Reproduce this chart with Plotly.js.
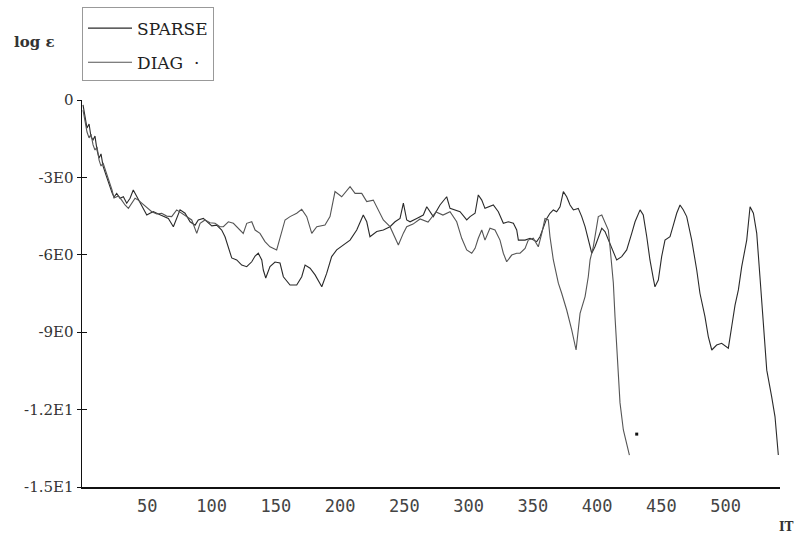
<!DOCTYPE html>
<html>
<head>
<meta charset="utf-8">
<script src="https://cdn.plot.ly/plotly-3.0.1.min.js"></script>
<style>html,body{margin:0;padding:0;background:#fff;}#chart{width:798px;height:546px;}</style>
</head>
<body>
<div id="chart"></div>
<script>
// ---- data ----
const sparseIT = [0,1.6,3.1,4.7,6.2,7.8,9.3,10.9,12.5,14.0,15.6,17.9,20.2,22.6,24.1,26.2,28.8,31.4,34.0,36.6,39.1,41.8,44.4,46.9,49.6,52.1,54.7,58.6,62.5,66.4,70.3,72.9,75.5,79.4,83.3,87.2,89.7,93.6,97.5,100.2,104.0,107.9,110.5,113.1,115.7,119.6,123.5,127.4,131.3,133.9,136.4,139.1,140.3,142.2,145.5,149.4,153.3,155.9,161.1,166.3,170.2,172.8,176.7,180.6,185.8,189.6,193.5,197.4,202.6,207.8,213.0,218.1,220.8,223.3,228.6,233.7,238.9,242.8,246.7,249.3,251.9,254.5,259.7,264.8,267.5,272.6,277.8,283.0,285.6,293.4,298.6,301.2,305.1,307.6,310.3,312.8,319.3,323.2,327.1,331.0,334.9,337.5,338.8,344.0,347.9,350.4,353.1,355.6,358.2,360.9,363.4,366.0,368.6,371.2,373.8,376.4,379.0,381.6,385.4,388.1,390.7,393.2,395.9,398.4,401.0,403.7,406.2,408.8,412.7,415.3,419.2,423.1,427.0,429.6,433.5,436.0,438.7,441.2,443.8,445.1,447.7,450.3,452.9,456.8,459.4,462.0,464.6,467.2,469.8,473.7,477.6,480.1,484.0,486.6,489.3,493.1,497.0,502.2,504.8,507.4,510.0,512.6,516.5,519.1,521.7,524.3,526.8,529.4,532.1,535.9,538.5,541.1];
const sparseLog = [-0.19,-0.70,-1.09,-0.93,-1.43,-1.55,-1.40,-1.94,-2.25,-2.09,-2.56,-2.91,-3.29,-3.60,-3.76,-3.62,-3.81,-3.75,-4.00,-3.81,-3.49,-3.75,-4.00,-4.20,-4.46,-4.39,-4.33,-4.42,-4.50,-4.59,-4.91,-4.59,-4.26,-4.39,-4.72,-4.85,-4.65,-4.59,-4.78,-4.88,-4.85,-5.04,-5.30,-5.69,-6.12,-6.20,-6.40,-6.46,-6.27,-6.05,-5.94,-6.20,-6.59,-6.90,-6.46,-6.28,-6.32,-6.85,-7.17,-7.17,-6.85,-6.40,-6.52,-6.78,-7.24,-6.72,-6.07,-5.81,-5.62,-5.43,-5.04,-4.46,-4.72,-5.30,-5.10,-5.04,-4.91,-4.72,-4.59,-4.00,-4.65,-4.72,-4.59,-4.46,-4.14,-4.52,-4.07,-3.75,-4.20,-4.33,-4.65,-4.52,-4.39,-3.68,-3.88,-4.20,-4.07,-4.33,-4.78,-4.72,-4.78,-5.04,-5.43,-5.43,-5.36,-5.43,-5.49,-5.30,-4.91,-4.59,-4.39,-4.26,-4.33,-4.14,-3.55,-3.75,-4.07,-4.26,-4.20,-4.52,-4.91,-5.43,-5.94,-5.69,-5.30,-4.97,-5.10,-5.43,-5.94,-6.20,-6.07,-5.81,-5.17,-4.72,-4.26,-4.46,-5.30,-6.20,-6.91,-7.24,-6.98,-6.07,-5.43,-5.30,-4.85,-4.39,-4.07,-4.26,-4.52,-5.43,-6.59,-7.49,-8.40,-9.17,-9.69,-9.50,-9.43,-9.62,-8.79,-7.95,-7.36,-6.46,-5.43,-4.14,-4.39,-5.17,-6.85,-8.79,-10.47,-11.50,-12.27,-13.76];

const diagIT = [0,1.6,3.1,4.7,6.2,7.8,9.3,10.9,12.5,14.0,15.6,17.9,20.2,22.6,24.1,27.5,30.1,32.7,35.3,37.9,40.5,43.0,45.7,49.6,53.5,57.4,61.2,65.1,69.0,72.9,76.8,80.7,84.6,88.5,91.1,94.9,98.8,102.7,106.6,109.2,113.1,117.0,120.9,124.7,127.4,131.3,133.9,137.7,141.6,145.5,150.7,157.2,161.1,166.3,170.2,174.1,178.0,181.9,188.3,192.2,196.1,201.3,207.8,211.7,216.9,220.8,225.9,229.8,233.7,238.9,244.1,245.4,249.3,251.9,256.8,262.3,268.5,274.7,280.1,285.6,290.8,294.7,298.6,302.5,305.1,307.6,310.3,312.8,316.7,320.6,324.5,327.1,329.7,333.6,337.5,340.1,344.0,346.5,350.4,354.3,357.0,359.5,362.1,363.4,366.0,369.9,372.5,376.4,380.3,383.7,386.8,390.7,393.2,394.6,397.1,401.0,403.7,406.2,408.8,410.1,412.7,414.0,415.3,417.9,420.5,425.2];
const diagLog = [-0.39,-0.85,-1.24,-1.47,-1.32,-1.74,-1.94,-1.82,-2.33,-2.56,-2.44,-2.79,-3.10,-3.49,-3.80,-3.72,-3.88,-4.07,-4.20,-4.00,-3.81,-3.88,-4.00,-4.14,-4.33,-4.42,-4.39,-4.50,-4.52,-4.26,-4.39,-4.50,-4.65,-5.17,-4.78,-4.65,-4.76,-4.78,-4.91,-4.91,-4.72,-4.78,-4.97,-5.17,-4.78,-4.72,-5.04,-5.17,-5.49,-5.69,-5.81,-4.65,-4.52,-4.39,-4.24,-4.52,-5.17,-4.91,-4.85,-4.52,-3.55,-3.75,-3.36,-3.62,-3.62,-3.94,-3.88,-4.26,-4.65,-4.91,-5.43,-5.62,-5.16,-4.91,-4.81,-4.61,-4.73,-4.34,-4.46,-4.33,-4.72,-5.36,-5.81,-5.94,-5.75,-5.36,-5.04,-5.43,-4.97,-5.04,-5.43,-5.94,-6.27,-6.01,-5.94,-5.94,-5.75,-5.43,-5.36,-5.69,-5.17,-4.59,-4.65,-5.30,-6.20,-7.10,-7.49,-8.14,-8.91,-9.69,-8.27,-7.62,-6.85,-6.20,-5.69,-4.52,-4.46,-4.72,-5.04,-5.69,-7.09,-8.40,-9.69,-11.74,-12.79,-13.76];

const strayIT = [430.9];
const strayLog = [-12.95];

const xTickVals = [50,100,150,200,250,300,350,400,450,500];
const xTickText = ['50','100','150','200','250','300','350','400','450','500'];
const yTickVals = [0,-3,-6,-9,-12,-15];
const yTickText = ['0','-3E0','-6E0','-9E0','-1.2E1','-1.5E1'];
const seriesNames = ['SPARSE', 'DIAG  \u00b7'];

// ---- chart ----
const traces = [
  {x: sparseIT, y: sparseLog, type: 'scatter', mode: 'lines', name: seriesNames[0],
   legendgroup: 'a', line: {color: '#2a2a2a', width: 1.1}},
  {x: diagIT, y: diagLog, type: 'scatter', mode: 'lines', name: seriesNames[1],
   legendgroup: 'b', line: {color: '#555555', width: 1.1}},
  {x: strayIT, y: strayLog, type: 'scatter', mode: 'markers', showlegend: false,
   marker: {symbol: 'square', size: 3, color: '#111'}},
  {x: [], y: [], yaxis: 'y2', type: 'scatter', mode: 'lines', showlegend: false}
];

const layout = {
  width: 798, height: 546,
  margin: {l: 82, r: 18, t: 100, b: 59, autoexpand: false},
  paper_bgcolor: '#fff', plot_bgcolor: '#fff',
  showlegend: true,
  hovermode: false,
  xaxis: {
    range: [-0.8, 542.4], showgrid: false, zeroline: false,
    showline: true, linecolor: '#111', linewidth: 1.5,
    ticks: '', tickvals: xTickVals, ticktext: xTickText,
    ticklabelstandoff: 3, automargin: false,
    tickfont: {family: 'DejaVu Sans Mono', size: 17, color: '#444'}
  },
  yaxis: {
    range: [-15, 0], showgrid: false, zeroline: false,
    showline: true, linecolor: '#111', linewidth: 1.5,
    ticks: 'outside', ticklen: 4, tickcolor: '#111', tickwidth: 1,
    tickvals: yTickVals, ticktext: yTickText, automargin: false,
    tickfont: {family: 'DejaVu Serif', size: 15, color: '#333'}
  },
  yaxis2: {
    overlaying: 'y', side: 'left', range: [-15, 0],
    showgrid: false, zeroline: false, showline: false,
    ticks: 'inside', ticklen: 5, tickcolor: '#111', tickwidth: 1,
    tickvals: yTickVals, showticklabels: false
  },
  legend: {
    x: 0, xanchor: 'left', y: 1.2403, yanchor: 'top',
    bordercolor: '#999', borderwidth: 1, bgcolor: '#fff',
    traceorder: 'grouped', tracegroupgap: 9, itemwidth: 44,
    title: {text: ' ', font: {size: 2}},
    font: {family: 'DejaVu Serif', size: 17, color: '#222'}
  },
  annotations: [
    {text: '<b>log \u03b5</b>', xref: 'paper', yref: 'paper', x: -0.1003, y: 1.150,
     xanchor: 'left', yanchor: 'middle', showarrow: false,
     font: {family: 'DejaVu Serif', size: 15, color: '#333'}},
    {text: '<b>IT</b>', xref: 'paper', yref: 'paper', x: 1.010, y: -0.103,
     xanchor: 'center', yanchor: 'middle', showarrow: false,
     font: {family: 'DejaVu Serif', size: 12, color: '#333'}}
  ]
};

Plotly.newPlot('chart', traces, layout, {displayModeBar: false, staticPlot: true});
</script>
</body>
</html>
